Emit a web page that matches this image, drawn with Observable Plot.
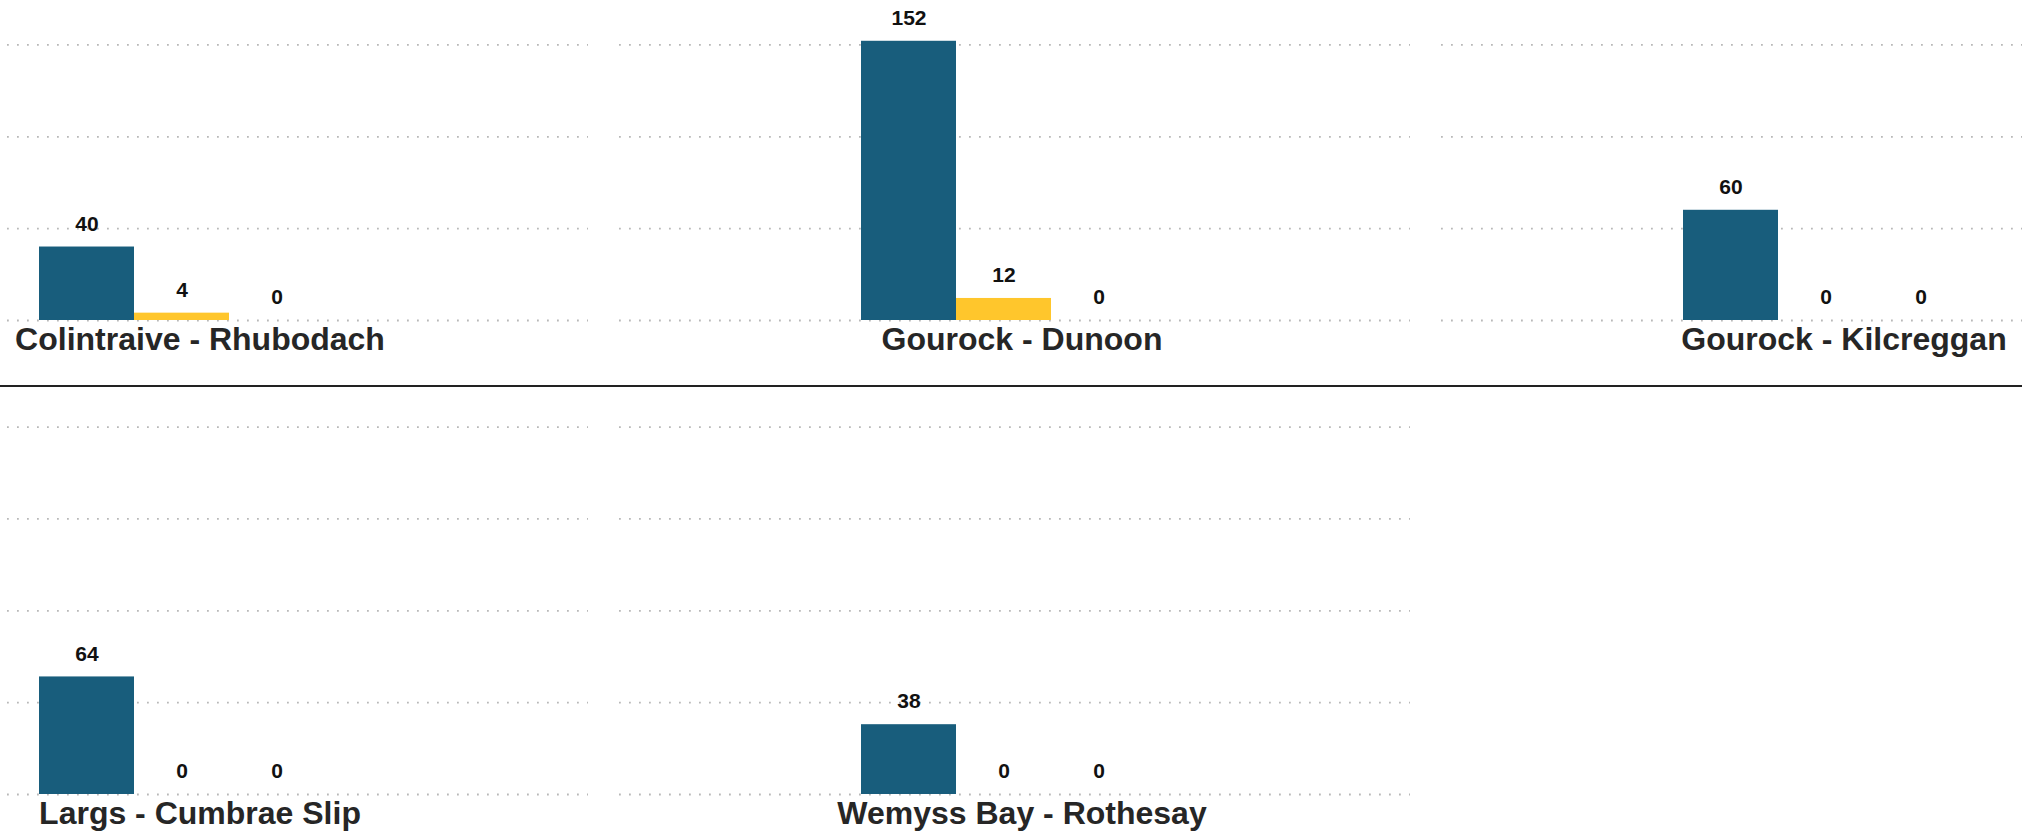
<!DOCTYPE html>
<html>
<head>
<meta charset="utf-8">
<script src="https://cdn.jsdelivr.net/npm/d3@7"></script>
<script src="https://cdn.jsdelivr.net/npm/@observablehq/plot@0.6"></script>
<style>
  html, body { margin: 0; padding: 0; background: #fff; }
  #wrap { width: 2022px; height: 834px; overflow: hidden; position: relative; background: #fff; }
  .row { margin-left: -203.5px; width: 2500px; }
  .row svg { display: block; max-width: none !important; }
  .sep { width: 2022px; height: 0; border-top: 2px solid #222; }
</style>
</head>
<body>
<div id="wrap">
  <div class="row" id="row1"></div>
  <div class="sep"></div>
  <div class="row" id="row2"></div>
</div>
<script>
// ---- data ----
const routes = [
  "Colintraive - Rhubodach",
  "Gourock - Dunoon",
  "Gourock - Kilcreggan",
  "Largs - Cumbrae Slip",
  "Wemyss Bay - Rothesay"
];
const seriesNames = ["Series 1", "Series 2", "Series 3"];
const series1Values = [40, 152, 60, 64, 38];
const series2Values = [4, 12, 0, 0, 0];
const series3Values = [0, 0, 0, 0, 0];
const seriesColors = ["#185d7c", "#ffc62c", "#8c8c8c"];
const gridTicksTop = [0, 50, 100, 150];
const gridTicksBottom = [0, 50, 100, 150, 200];

const allSeries = [series1Values, series2Values, series3Values];
const table = [];
routes.forEach((r, i) => {
  seriesNames.forEach((s, j) => table.push({route: r, series: s, value: allSeries[j][i]}));
});

const pxPerUnit = 1.837;
const font = "'Liberation Sans', Arial, Helvetica, sans-serif";

function rowPlot(rowRoutes, ticks, width, height, marginBottom) {
  const rows = table.filter(d => rowRoutes.includes(d.route));
  const frameH = height - marginBottom;
  return Plot.plot({
    width, height,
    marginTop: 0, marginBottom, marginLeft: 0, marginRight: 0,
    style: {fontFamily: font, background: "transparent", overflow: "visible", maxWidth: "none"},
    facet: {data: rows, x: "route"},
    fx: {domain: rowRoutes, paddingInner: 31 / 822, paddingOuter: 0, axis: null, label: null},
    x: {domain: seriesNames, paddingInner: 0, paddingOuter: 2.646, align: 0.478, axis: null},
    y: {domain: [0, frameH / pxPerUnit], axis: null},
    color: {domain: seriesNames, range: seriesColors},
    marks: [
      Plot.ruleY(ticks, {stroke: "#b8b8b8", strokeWidth: 1.8, strokeDasharray: "1.8,8.2"}),
      Plot.barY(rows, {x: "series", y: "value", fill: "series"}),
      Plot.text(rows, {x: "series", y: "value", text: d => String(d.value), dy: -23,
        fontSize: 21, fontWeight: "bold", fill: "#111"}),
      Plot.text(rows, {filter: d => d.series === seriesNames[0], text: "route",
        frameAnchor: "bottom", dy: 29, dx: 7, fontSize: 32, fontWeight: "bold", fill: "#262626"})
    ]
  });
}

document.getElementById("row1").appendChild(
  rowPlot(routes.slice(0, 3), gridTicksTop, 2435, 385, 65)
);
document.getElementById("row2").appendChild(
  rowPlot(routes.slice(3), gridTicksBottom, 1613, 447, 40)
);
</script>
</body>
</html>
